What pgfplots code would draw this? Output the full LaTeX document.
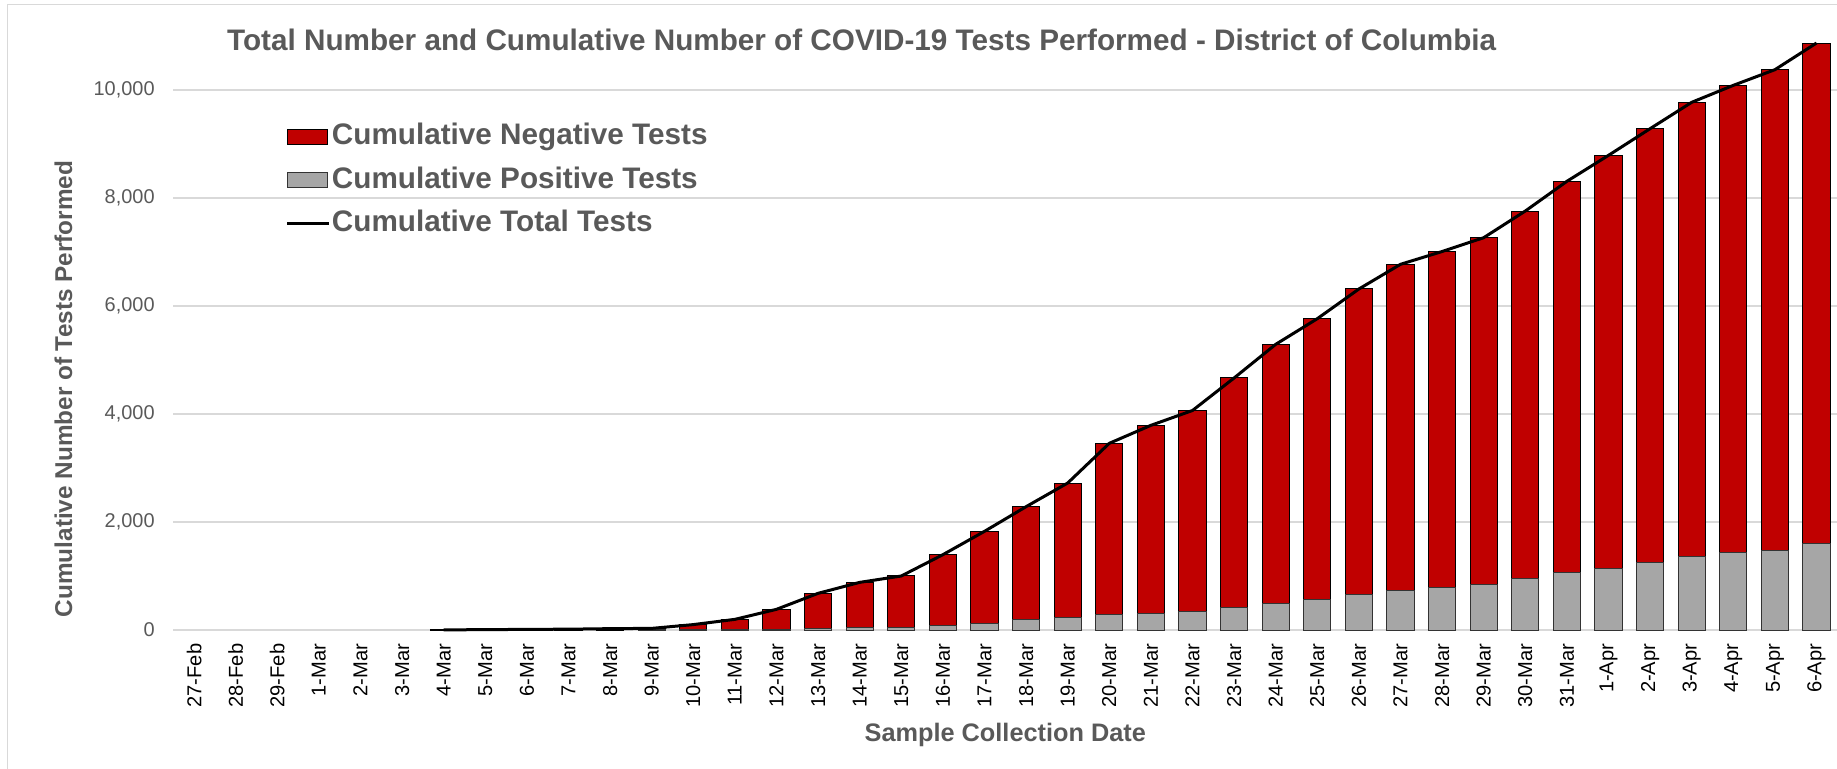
\documentclass[border=0pt]{standalone}
\usepackage{pgfplots}
\usepackage{pgfplotstable}
\pgfplotsset{compat=1.18}
\usepackage{fontspec}
\setmainfont{Liberation Sans}
\definecolor{negred}{HTML}{C00000}
\definecolor{posgray}{HTML}{A6A6A6}
\definecolor{txtgray}{HTML}{595959}
\definecolor{gridgray}{HTML}{D9D9D9}

\pgfplotstableread{
idx total
6 3
7 6
8 12
9 15
10 25
11 30
12 100
13 197
14 383
15 679
16 882
17 1000
18 1395
19 1827
20 2284
21 2722
22 3457
23 3790
24 4065
25 4667
26 5290
27 5765
28 6315
29 6772
30 7009
31 7265
32 7759
33 8309
34 8790
35 9284
36 9772
37 10086
38 10376
39 10870
}\totaldata

\pgfplotstableread{
idx pos
11 1
12 3
13 6
14 12
15 30
16 49
17 52
18 80
19 123
20 197
21 235
22 290
23 309
24 346
25 414
26 494
27 568
28 660
29 735
30 790
31 846
32 951
33 1074
34 1148
35 1259
36 1352
37 1426
38 1481
39 1605
}\posdata

\begin{document}
\begin{tikzpicture}
\useasboundingbox (0,0) rectangle (918.5bp,384.5bp);
\begin{scope}
\clip (0,0) rectangle (918.5bp,384.5bp);
\draw[gridgray, line width=0.75bp] (3.65bp,-20bp) rectangle (940bp,382.15bp);
\begin{axis}[
  at={(86.65bp,69.5bp)}, anchor=south west,
  scale only axis, width=832bp, height=297bp,
  xmin=-0.5, xmax=39.5, ymin=0, ymax=11000,
  axis line style={draw=none},
  clip=false,
  ytick={0,2000,...,10000},
  scaled y ticks=false,
  /pgf/number format/assume math mode=true,
  yticklabel style={/pgf/number format/fixed, /pgf/number format/1000 sep={,},
    anchor=east, inner sep=0pt, text=txtgray, font=\fontsize{10}{12}\selectfont},
  yticklabel shift=9.15bp,
  ymajorgrids, major grid style={gridgray, line width=0.65bp},
  ytick style={draw=none},
  xtick={0,...,39},
  xticklabels={27-Feb,28-Feb,29-Feb,1-Mar,2-Mar,3-Mar,4-Mar,5-Mar,6-Mar,7-Mar,8-Mar,9-Mar,10-Mar,11-Mar,12-Mar,13-Mar,14-Mar,15-Mar,16-Mar,17-Mar,18-Mar,19-Mar,20-Mar,21-Mar,22-Mar,23-Mar,24-Mar,25-Mar,26-Mar,27-Mar,28-Mar,29-Mar,30-Mar,31-Mar,1-Apr,2-Apr,3-Apr,4-Apr,5-Apr,6-Apr},
  xticklabel style={rotate=90, anchor=east, inner sep=0pt, text=black, font=\fontsize{10.1}{12}\selectfont},
  xticklabel shift=6.65bp,
  major tick length=0pt,
  xtick style={draw=none},
  minor xtick={-0.5,0.5,...,39.5},
  minor tick length=3bp,
  tick align=outside,
  minor x tick style={gridgray, line width=0.65bp},
  title={Total Number and Cumulative Number of COVID-19 Tests Performed - District of Columbia},
  title style={at={(axis description cs:0.4137,0.9736)}, anchor=center, inner sep=0pt,
    font=\bfseries\fontsize{14.9}{17}\selectfont, text=txtgray},
  xlabel={Sample Collection Date},
  xlabel style={at={(axis description cs:0.5,-0.176)}, anchor=center, inner sep=0pt,
    font=\bfseries\fontsize{12.7}{15}\selectfont, text=txtgray},
  ylabel={Cumulative Number of Tests Performed},
  ylabel style={at={(axis description cs:-0.066,0.4057)}, anchor=center, inner sep=0pt, rotate=0,
    font=\bfseries\fontsize{12.2}{15}\selectfont, text=txtgray},
  legend cell align=left,
  legend style={at={(axis description cs:0.0677,0.8539)}, anchor=north west,
    draw=none, fill=none, inner sep=0pt, outer sep=0pt,
    font=\bfseries\fontsize{14.9}{17}\selectfont, text=txtgray,
    nodes={inner sep=0pt, text height=11bp, text depth=3bp},
    row sep=7.75bp,
    /tikz/every odd column/.append style={column sep=0.5bp}},
]
\addlegendimage{legend image code/.code={\draw[fill=negred, draw=black, line width=0.5bp] (0bp,-3.75bp) rectangle (20bp,3.75bp);}}
\addlegendentry{Cumulative Negative Tests}
\addlegendimage{legend image code/.code={\draw[fill=posgray, draw=black!80, line width=0.5bp] (0bp,-3.75bp) rectangle (20bp,3.75bp);}}
\addlegendentry{Cumulative Positive Tests}
\addlegendimage{legend image code/.code={\draw[black, line width=1.5bp] (0bp,0bp) -- (21bp,0bp);}}
\addlegendentry{Cumulative Total Tests}

\addplot[ybar, bar shift=0pt, bar width=13.65bp, fill=negred, draw=black, line width=0.5bp, forget plot]
  table[x=idx, y=total] {\totaldata};
\addplot[ybar, bar shift=0pt, bar width=13.65bp, fill=posgray, draw=black!80, line width=0.5bp, forget plot]
  table[x=idx, y=pos] {\posdata};
\addplot[sharp plot, black, line width=1.5bp, mark=none, line join=round, forget plot]
  table[x=idx, y=total] {\totaldata};
\end{axis}
\end{scope}
\end{tikzpicture}
\end{document}
